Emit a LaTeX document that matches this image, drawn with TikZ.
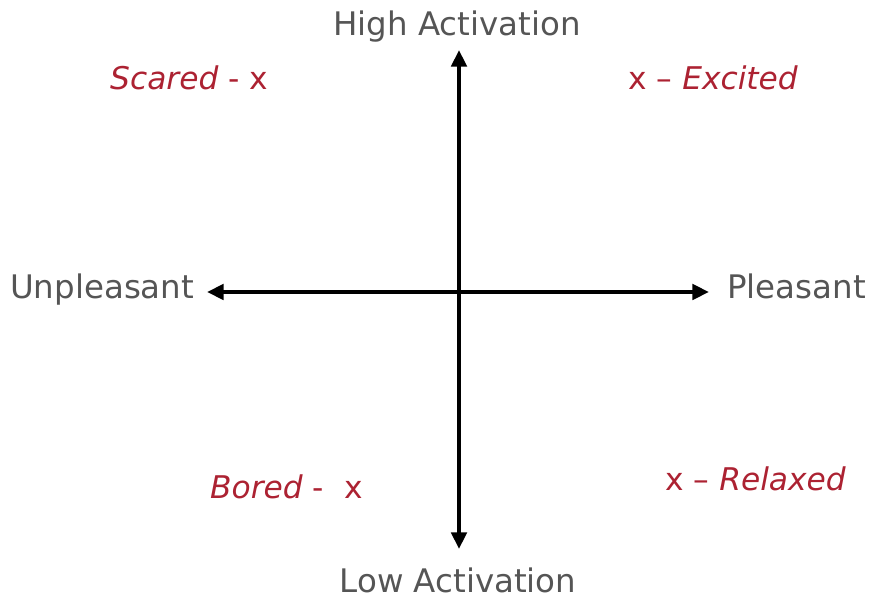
\documentclass[tikz,border=0pt]{standalone}
\usepackage{fontspec}
\setmainfont{DejaVu Sans}
\usetikzlibrary{arrows.meta}

\definecolor{labelgrey}{RGB}{85,85,85}
\definecolor{moodred}{RGB}{172,34,50}

\begin{document}
\begin{tikzpicture}[x=0.03cm,y=-0.03cm,
  axislabel/.style={text=labelgrey,font=\fontsize{27.7}{32}\selectfont,inner sep=0pt},
  mood/.style={text=moodred,font=\fontsize{26.7}{31}\selectfont,inner sep=0pt},
  axis/.style={{Triangle[length=5mm,width=4.6mm]}-{Triangle[length=5mm,width=4.6mm]},line width=3.2pt}
]
  \useasboundingbox (0,0) rectangle (869,598);

  % axis ends
  \coordinate (top) at (459,50);
  \coordinate (bottom) at (459,549);
  \coordinate (left) at (207,292);
  \coordinate (right) at (709,292);

  \draw[axis] (bottom) -- (top);
  \draw[axis] (left) -- (right);

  % axis labels
  \node[axislabel,anchor=base] (high) at (457,36) {High Activation};
  \node[axislabel,anchor=base] (low) at (458,592) {Low Activation};
  \node[axislabel,anchor=base west] (unpleasant) at (10,299) {Unpleasant};
  \node[axislabel,anchor=base west] (pleasant) at (727,299) {Pleasant};

  % quadrant moods
  \node[mood,anchor=base west] (scared) at (110,90) {\textit{Scared} - x};
  \node[mood,anchor=base west] (excited) at (628,90) {x – \textit{Excited}};
  \node[mood,anchor=base west] (bored) at (210,498) {\textit{Bored} -~~x};
  \node[mood,anchor=base west] (relaxed) at (665,490) {x – \textit{Relaxed}};
\end{tikzpicture}
\end{document}
